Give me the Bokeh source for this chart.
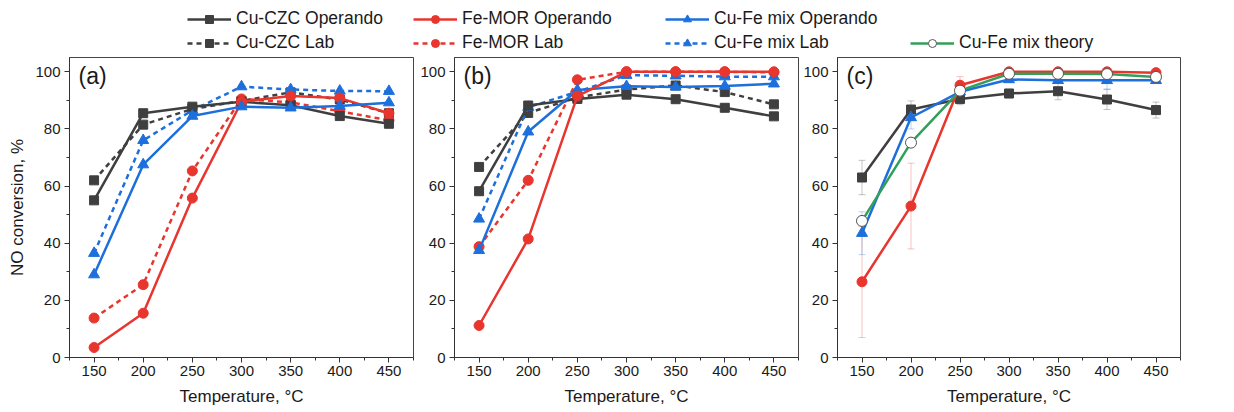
from bokeh.plotting import figure
from bokeh.models import (ColumnDataSource, Legend, LegendItem, Range1d, Label,
                          Whisker, FixedTicker, TeeHead)
from bokeh.layouts import column, row
from bokeh.embed import file_html
from bokeh.resources import INLINE

# ---------------- data ----------------
temps = [150, 200, 250, 300, 350, 400, 450]
x_ticks = [150, 200, 250, 300, 350, 400, 450]
y_ticks = [0, 20, 40, 60, 80, 100]

# panel (a)
a_czc_operando = [55.0, 85.5, 87.8, 89.5, 88.3, 84.5, 81.8]
a_czc_lab = [62.0, 81.5, 87.0, 89.8, 92.8, 90.3, 85.5]
a_mor_operando = [3.5, 15.5, 55.8, 89.5, 91.5, 90.8, 85.5]
a_mor_lab = [13.8, 25.5, 65.3, 90.5, 89.3, 86.2, 83.0]
a_mix_operando = [29.0, 67.5, 84.5, 87.8, 87.4, 88.0, 89.2]
a_mix_lab = [36.5, 76.0, 86.5, 94.8, 93.8, 93.3, 93.2]

# panel (b)
b_czc_operando = [58.2, 88.2, 90.5, 92.0, 90.4, 87.4, 84.4]
b_czc_lab = [66.7, 85.6, 91.0, 93.8, 95.2, 92.9, 88.6]
b_mor_operando = [11.2, 41.5, 91.5, 100.0, 100.0, 100.0, 100.0]
b_mor_lab = [38.8, 62.0, 97.2, 100.0, 100.0, 100.0, 99.8]
b_mix_operando = [37.5, 79.0, 93.6, 94.9, 94.7, 95.0, 95.8]
b_mix_lab = [48.5, 87.6, 93.0, 98.8, 98.6, 98.3, 98.3]

# panel (c)
c_czc = [63.0, 86.8, 90.5, 92.4, 93.2, 90.3, 86.6]
c_czc_err = [6.0, 3.0, 2.0, 1.5, 3.0, 3.5, 2.8]
c_mor = [26.5, 53.0, 95.3, 100.0, 100.0, 100.0, 99.7]
c_mor_err = [19.5, 15.0, 3.0, 0.5, 0.5, 0.5, 0.5]
c_mix = [43.5, 84.0, 93.0, 97.3, 97.0, 97.0, 97.0]
c_mix_err = [7.5, 4.0, 1.5, 1.0, 1.0, 3.0, 1.0]
c_theory = [47.8, 75.2, 93.4, 99.3, 99.3, 99.2, 98.2]

labels = {
    "czc_op": "Cu-CZC Operando", "mor_op": "Fe-MOR Operando", "mix_op": "Cu-Fe mix Operando",
    "czc_lab": "Cu-CZC Lab", "mor_lab": "Fe-MOR Lab", "mix_lab": "Cu-Fe mix Lab",
    "theory": "Cu-Fe mix theory",
}

# ---------------- styles ----------------
GRAY = "#3f3f3f"
RED = "#e8362f"
BLUE = "#1d6fdc"
GREEN = "#33a05a"
FONT = "Liberation Sans"
TXT = "#1a1a1a"
DASH = "5 4"

styles = {
    "czc_op": dict(color=GRAY, dash="solid", marker="square", size=9),
    "czc_lab": dict(color=GRAY, dash=DASH, marker="square", size=9),
    "mor_op": dict(color=RED, dash="solid", marker="circle", size=10),
    "mor_lab": dict(color=RED, dash=DASH, marker="circle", size=10),
    "mix_op": dict(color=BLUE, dash="solid", marker="triangle", size=11),
    "mix_lab": dict(color=BLUE, dash=DASH, marker="triangle", size=11),
}

FRAME_W = 344
FRAME_H = 300


def draw_series(p, src, key, st, fill=None, line_color=None):
    p.line("x", key, source=src, line_color=st["color"], line_width=2.5,
           line_dash=st["dash"])
    p.scatter("x", key, source=src, marker=st["marker"], size=st["size"],
              fill_color=fill or st["color"], line_color=line_color or st["color"],
              line_width=1)


def make_panel(tag, left, right, ylabel):
    p = figure(width=left + FRAME_W + right, height=4 + FRAME_H + 54,
               x_range=Range1d(125, 475), y_range=Range1d(0, 105),
               output_backend="svg", toolbar_location=None,
               min_border_left=left, min_border_right=right,
               min_border_top=4, min_border_bottom=54)
    p.xgrid.visible = False
    p.ygrid.visible = False
    p.outline_line_color = "#444444"
    p.outline_line_width = 1
    p.outline_line_alpha = 1
    p.xaxis.ticker = FixedTicker(
        ticks=x_ticks,
        minor_ticks=[t - 25 for t in x_ticks] + [x_ticks[-1] + 25])
    p.yaxis.ticker = FixedTicker(
        ticks=y_ticks, minor_ticks=[t + 10 for t in y_ticks[:-1]])
    for ax in (p.xaxis[0], p.yaxis[0]):
        ax.axis_line_color = "#333333"
        ax.major_tick_line_color = "#333333"
        ax.minor_tick_line_color = "#333333"
        ax.major_tick_in = 0
        ax.major_tick_out = 5
        ax.minor_tick_in = 0
        ax.minor_tick_out = 3
        ax.major_label_text_font = FONT
        ax.major_label_text_font_size = "15px"
        ax.major_label_text_color = TXT
        ax.axis_label_text_font = FONT
        ax.axis_label_text_font_size = "17px"
        ax.axis_label_text_font_style = "normal"
        ax.axis_label_text_color = TXT
    p.xaxis.major_label_standoff = 3
    p.xaxis.axis_label_standoff = 8
    p.yaxis.major_label_standoff = 4
    p.xaxis.axis_label = "Temperature, \u00b0C"
    if ylabel:
        p.yaxis.axis_label = "NO conversion, %"
        p.yaxis.axis_label_standoff = 5
    p.add_layout(Label(x=9, y=FRAME_H - 5, x_units="screen", y_units="screen",
                       text=tag, text_font=FONT, text_font_size="23px",
                       text_color=TXT, text_baseline="top", text_align="left"))
    return p


# ---------------- panel (a) ----------------
pa = make_panel("(a)", 69, 3, True)
src_a = ColumnDataSource(dict(x=temps, czc_op=a_czc_operando, czc_lab=a_czc_lab,
                              mor_op=a_mor_operando, mor_lab=a_mor_lab,
                              mix_op=a_mix_operando, mix_lab=a_mix_lab))
for k in ["czc_lab", "mor_lab", "mix_lab", "czc_op", "mor_op", "mix_op"]:
    draw_series(pa, src_a, k, styles[k])

# ---------------- panel (b) ----------------
pb = make_panel("(b)", 38, 2, False)
src_b = ColumnDataSource(dict(x=temps, czc_op=b_czc_operando, czc_lab=b_czc_lab,
                              mor_op=b_mor_operando, mor_lab=b_mor_lab,
                              mix_op=b_mix_operando, mix_lab=b_mix_lab))
for k in ["czc_lab", "mor_lab", "mix_lab", "czc_op", "mix_op", "mor_op"]:
    draw_series(pb, src_b, k, styles[k])

# ---------------- panel (c) ----------------
pc = make_panel("(c)", 36, 10, False)
src_c = ColumnDataSource(dict(
    x=temps, czc_op=c_czc, mor_op=c_mor, mix_op=c_mix, theory=c_theory,
    czc_up=[v + e for v, e in zip(c_czc, c_czc_err)],
    czc_lo=[v - e for v, e in zip(c_czc, c_czc_err)],
    mor_up=[v + e for v, e in zip(c_mor, c_mor_err)],
    mor_lo=[v - e for v, e in zip(c_mor, c_mor_err)],
    mix_up=[v + e for v, e in zip(c_mix, c_mix_err)],
    mix_lo=[v - e for v, e in zip(c_mix, c_mix_err)],
))
for key, col in [("czc", GRAY), ("mor", RED), ("mix", BLUE)]:
    pc.add_layout(Whisker(base="x", upper=key + "_up", lower=key + "_lo", source=src_c,
                          dimension="height", line_color=col, line_alpha=0.3, line_width=1,
                          upper_head=TeeHead(size=7, line_color=col, line_alpha=0.3),
                          lower_head=TeeHead(size=7, line_color=col, line_alpha=0.3)))
draw_series(pc, src_c, "czc_op", styles["czc_op"])
draw_series(pc, src_c, "mor_op", styles["mor_op"])
draw_series(pc, src_c, "mix_op", styles["mix_op"])
theory_style = dict(color=GREEN, dash="solid", marker="circle", size=11)
pc.line("x", "theory", source=src_c, line_color=GREEN, line_width=2.5)
pc.scatter("x", "theory", source=src_c, marker="circle", size=11,
           fill_color="white", line_color="#555555", line_width=1)

# ---------------- legend strip ----------------
# legend-only figure: its glyphs use the panel data, which lies outside its view
leg = figure(width=1190, height=53, x_range=Range1d(0, 1), y_range=Range1d(0, 1),
             x_axis_type=None, y_axis_type=None, output_backend="svg",
             toolbar_location=None, min_border=0, outline_line_color=None)
leg.xgrid.visible = False
leg.ygrid.visible = False
hidden = ColumnDataSource(dict(x=temps, y=c_theory))


def legend_item(key, st, fill=None, edge=None):
    lr = leg.line("x", "y", source=hidden, line_color=st["color"], line_width=2.5,
                  line_dash=st["dash"])
    sr = leg.scatter("x", "y", source=hidden, marker=st["marker"], size=st["size"],
                     fill_color=fill or st["color"], line_color=edge or st["color"])
    return LegendItem(label=labels[key], renderers=[lr, sr])


def add_legend(items, x):
    lg = Legend(items=items, location=(x, 0), orientation="vertical",
                glyph_width=44, glyph_height=20, label_height=20, spacing=3,
                padding=0, margin=0, border_line_color=None,
                background_fill_alpha=0, label_standoff=5,
                label_text_font=FONT, label_text_font_size="17.5px",
                label_text_color=TXT)
    leg.add_layout(lg, "center")


add_legend([legend_item("czc_op", styles["czc_op"]),
            legend_item("czc_lab", styles["czc_lab"])], 187)
add_legend([legend_item("mor_op", styles["mor_op"]),
            legend_item("mor_lab", styles["mor_lab"])], 413)
add_legend([legend_item("mix_op", styles["mix_op"]),
            legend_item("mix_lab", styles["mix_lab"])], 665)
add_legend([legend_item("theory", theory_style, fill="white", edge="#555555")], 910)

layout = column(leg, row(pa, pb, pc, spacing=0), spacing=0)

open("out.html", "w").write(file_html(layout, INLINE))
